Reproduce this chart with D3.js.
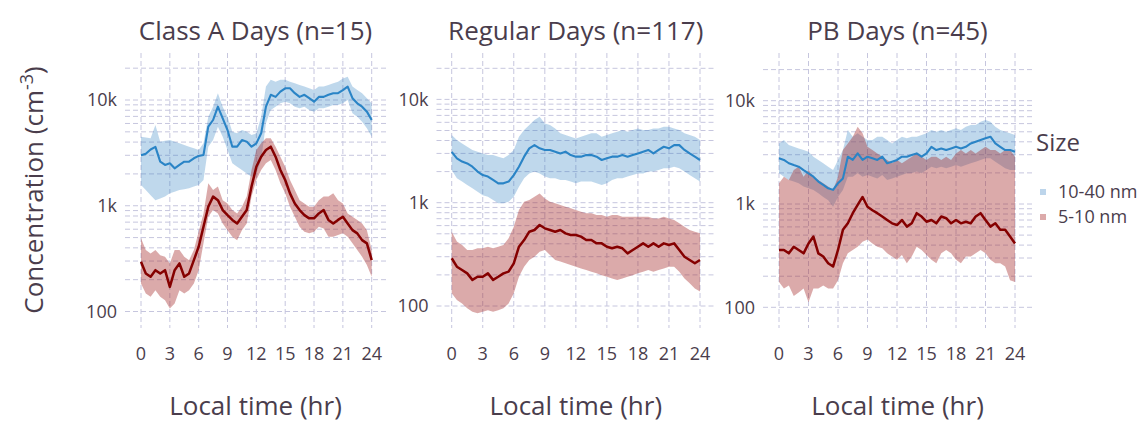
<!DOCTYPE html>
<html><head><meta charset="utf-8">
<script src="https://cdn.jsdelivr.net/npm/d3@7"></script>
<style>
body{margin:0;background:#fff}
text{font-family:'Open Sans',sans-serif;fill:#4a3d4c}
</style>
</head><body>
<svg id="chart" width="1147" height="422"></svg>
<script>
// ---------- data ----------
const hours = [0,0.5,1,1.5,2,2.5,3,3.5,4,4.5,5,5.5,6,6.5,7,7.5,8,8.5,9,9.5,10,10.5,11,11.5,12,12.5,13,13.5,14,14.5,15,15.5,16,16.5,17,17.5,18,18.5,19,19.5,20,20.5,21,21.5,22,22.5,23,23.5,24];

const panelTitles = ["Class A Days (n=15)", "Regular Days (n=117)", "PB Days (n=45)"];
const sizeLabels = ["10-40 nm", "5-10 nm"];
const xTicks = [0,3,6,9,12,15,18,21,24];
const yMajor = [100,1000,10000];
const yMajorLabels = ["100","1k","10k"];
const yMinor = [200,300,400,500,600,700,800,900,2000,3000,4000,5000,6000,7000,8000,9000,20000];

// Class A days
const classA_1040_mean = [3000,3100,3400,3600,2610,2430,2520,2260,2430,2610,2610,2810,2960,3020,5600,6470,8650,6710,5200,3620,3620,4180,4040,3620,3890,4840,8650,11200,10700,12000,12900,12900,11600,10700,11200,10400,9640,10700,10700,11200,11600,11600,12400,13400,10400,9300,8650,7760,6470];
const classA_1040_hi = [4500,4430,4340,5800,4040,4120,4180,4040,3890,3750,3620,3500,3370,3890,6960,8650,11600,8650,6960,5020,4840,5200,5020,4670,4840,6960,13400,15500,14900,15500,15500,14900,14400,13900,13400,12900,12400,13400,13400,13900,14400,14900,16000,16600,13400,12400,11600,10400,9300];
const classA_1040_lo = [1570,1410,1260,1130,1170,1220,1310,1360,1410,1430,1460,1520,1570,1750,3620,4180,5600,4500,3370,2520,2340,2180,2020,1880,2020,2710,6020,8040,8650,9300,9640,9300,8650,8350,8650,8040,7760,8350,8350,8650,8970,8970,9300,10000,7480,6960,6240,5400,4500];
const classA_510_mean = [296,229,213,246,229,246,171,246,285,213,229,306,410,632,980,1220,1130,910,815,735,680,786,910,1520,2340,2910,3370,3620,2910,2180,1750,1310,1050,910,815,760,760,846,910,735,680,735,786,680,588,548,473,441,306];
const classA_510_hi = [492,381,354,381,341,330,285,381,381,330,306,381,568,846,1630,1410,1520,1130,1050,910,846,980,1220,2180,3370,3890,4340,4340,3620,2910,2340,1750,1410,1130,1050,980,980,1130,1220,1220,1310,1130,1050,846,786,735,680,588,381];
const classA_510_lo = [184,148,138,159,138,128,107,119,159,148,159,184,246,441,786,910,846,680,588,509,473,588,680,1220,1750,2180,2520,2710,2180,1630,1310,980,786,632,568,548,568,632,610,509,509,528,548,509,441,381,330,275,213];

// Regular days
const regular_1040_mean = [3100,2690,2500,2400,2230,2000,1850,1790,1660,1540,1540,1600,1850,2230,2790,3360,3610,3360,3240,3240,3120,3000,3120,2890,2790,2790,2890,2890,2790,2590,2690,2790,2790,2890,2790,2890,3000,3120,3240,3000,3240,3480,3360,3610,3610,3240,3000,2790,2590];
const regular_1040_hi = [4520,4040,3750,3480,3240,3120,3000,2890,2890,2790,2690,2890,3240,4350,5050,5640,6310,6800,5860,5640,5240,4690,4520,4350,4190,4350,4520,4690,4690,4350,4520,4690,4870,5050,4870,5050,5240,5050,5050,5240,5240,5440,5440,5240,5050,4690,4520,4350,4040];
const regular_1040_lo = [2070,1720,1600,1480,1380,1280,1180,1140,1060,986,986,1020,1140,1430,1720,1920,2000,1920,1790,1720,1720,1660,1660,1600,1540,1600,1600,1600,1540,1480,1540,1660,1720,1720,1790,1850,1920,1920,2000,2000,2070,2150,2150,2230,2150,2000,1850,1720,1600];
const regular_510_mean = [290,240,223,207,179,192,192,207,179,192,207,215,259,375,435,524,544,608,565,544,524,544,505,487,487,469,435,435,404,404,375,362,375,362,323,348,375,404,375,404,375,404,390,404,348,300,279,259,279];
const regular_510_hi = [524,420,390,348,348,362,362,375,362,375,390,452,586,850,1020,1060,1140,1230,1100,1020,986,950,915,882,850,819,789,789,760,760,732,760,760,732,732,732,732,732,732,705,705,732,705,680,631,586,544,524,505];
const regular_510_lo = [133,114,106,95,88,85,88,91,88,91,95,106,133,192,240,279,300,336,348,311,279,269,259,249,240,231,223,215,207,199,192,185,179,185,192,199,207,215,223,215,223,231,240,240,215,185,166,148,138];

// PB days
const pb_1040_mean = [2770,2670,2480,2380,2300,2130,1980,1840,1650,1530,1420,1370,1590,1770,2870,2670,3090,2670,2870,2770,2670,2870,2480,2570,2670,2870,2870,2980,3090,2870,3090,3580,3330,3450,3330,3450,3580,3450,3580,3860,4010,4160,4320,4480,3860,3580,3330,3330,3210];
const pb_1040_hi = [3860,4160,3730,3580,3450,3330,3210,2870,2670,2480,2300,2130,2670,3330,5200,4480,4830,4480,4160,4160,4480,4480,4160,3860,4160,4480,4320,4480,4480,4650,4830,5200,5010,5200,5010,5200,5400,5200,5610,5820,5820,6270,6510,6270,5610,5200,5010,4830,4650];
const pb_1040_lo = [1980,1840,1710,1650,1590,1480,1420,1370,1270,1170,1090,940,1170,1370,1840,1840,1980,1840,1910,1840,1770,1910,1710,1770,1840,1910,1980,1980,2060,1980,2130,2300,2220,2300,2220,2300,2380,2300,2380,2480,2570,2670,2770,2770,2570,2380,2220,2130,2130];
const pb_510_mean = [359,359,333,386,359,333,415,484,333,310,267,248,359,562,650,815,980,1170,940,870,815,756,700,650,626,700,604,650,815,756,674,700,650,756,728,650,700,650,674,650,756,815,700,604,650,562,562,484,415];
const pb_510_hi = [1590,1840,1710,2130,2300,1840,2130,1840,1710,1590,1480,1370,1840,3330,3860,4480,5610,4830,3580,3330,3090,2870,2670,2480,2670,2480,2670,2870,3090,2870,2670,2870,2870,2670,2870,2670,3090,3330,3090,3330,3090,3330,3580,3330,3330,3090,3330,3330,2870];
const pb_510_lo = [176,152,163,129,139,152,112,152,152,163,152,152,183,267,333,359,386,430,452,415,386,372,333,310,289,321,267,310,386,359,321,289,267,333,359,333,289,267,310,310,333,359,333,289,267,267,248,183,176];

// ---------- layout ----------
const layout = [
  {x0:141,   x24:371.7, left:125,   right:386,  y100:311.5, y10k:100},
  {x0:451.7, x24:700,   left:436.5, right:715,  y100:306,   y10k:99.4},
  {x0:779,   x24:1015,  left:763,   right:1032, y100:307.3, y10k:100.7}
];
const panelTop = 53, panelBottom = 328;

const series = [
  [{mean:classA_1040_mean, lo:classA_1040_lo, hi:classA_1040_hi}, {mean:classA_510_mean, lo:classA_510_lo, hi:classA_510_hi}],
  [{mean:regular_1040_mean, lo:regular_1040_lo, hi:regular_1040_hi}, {mean:regular_510_mean, lo:regular_510_lo, hi:regular_510_hi}],
  [{mean:pb_1040_mean, lo:pb_1040_lo, hi:pb_1040_hi}, {mean:pb_510_mean, lo:pb_510_lo, hi:pb_510_hi}]
];

const ribbonFill = ["#2c7fc0", "#a52a2a"];
const ribbonOpacity = [0.3, 0.4];
const lineColor = ["#2a84c6", "#850000"];
const lineWidth = [2.1, 2.5];
const gridColor = "#c6c6de";

const svg = d3.select("#chart");

layout.forEach((L, p) => {
  const x = d3.scaleLinear().domain([0,24]).range([L.x0, L.x24]);
  const y = d3.scaleLog().domain([100,10000]).range([L.y100, L.y10k]);
  const g = svg.append("g");

  // grid
  const gridG = g.append("g").attr("stroke", gridColor).attr("stroke-width", 1).attr("stroke-dasharray", "5,3").attr("fill","none");
  gridG.selectAll("line.hmin").data(yMinor.filter(v => y(v) >= panelTop && y(v) <= panelBottom)).join("line")
    .attr("x1", L.left).attr("x2", L.right).attr("y1", d => y(d)).attr("y2", d => y(d));
  gridG.selectAll("line.hmaj").data(yMajor).join("line")
    .attr("x1", L.left).attr("x2", L.right).attr("y1", d => y(d)).attr("y2", d => y(d));
  gridG.selectAll("line.v").data(xTicks).join("line")
    .attr("y1", panelTop).attr("y2", panelBottom).attr("x1", d => x(d)).attr("x2", d => x(d));

  // ribbons
  series[p].forEach((s, k) => {
    const area = d3.area().x((d,i) => x(hours[i])).y0((d,i) => y(s.lo[i])).y1((d,i) => y(s.hi[i]));
    g.append("path").datum(hours).attr("d", area).attr("fill", ribbonFill[k]).attr("fill-opacity", ribbonOpacity[k]);
  });
  // lines
  series[p].forEach((s, k) => {
    const line = d3.line().x((d,i) => x(hours[i])).y((d,i) => y(s.mean[i]));
    g.append("path").datum(hours).attr("d", line).attr("fill","none").attr("stroke", lineColor[k])
      .attr("stroke-width", lineWidth[k]).attr("stroke-linejoin","round");
  });

  // y tick labels
  g.selectAll("text.yl").data(yMajor).join("text")
    .attr("x", L.left - 8).attr("y", d => y(d)).attr("dy", "0.35em")
    .attr("text-anchor","end").attr("font-size", 18).text((d,i) => yMajorLabels[i]);
  // x tick labels
  g.selectAll("text.xl").data(xTicks).join("text")
    .attr("x", d => x(d)).attr("y", 360)
    .attr("text-anchor","middle").attr("font-size", 18).text(d => d);

  const cx = (L.left + L.right) / 2;
  g.append("text").attr("x", cx).attr("y", 39.5).attr("text-anchor","middle").attr("font-size", 26).text(panelTitles[p]);
  g.append("text").attr("x", cx).attr("y", 415).attr("text-anchor","middle").attr("font-size", 26).text("Local time (hr)");
});

// y axis title
const yt = svg.append("text").attr("transform", "translate(43,190) rotate(-90)").attr("text-anchor","middle").attr("font-size", 26);
yt.append("tspan").text("Concentration (cm");
yt.append("tspan").attr("font-size", 18).attr("dy", -10).text("-3");
yt.append("tspan").attr("dy", 10).text(")");

// legend
svg.append("text").attr("x", 1036).attr("y", 151).attr("font-size", 24).text("Size");
const legFill = ["#bdd5eb", "#dcaaaa"];
sizeLabels.forEach((lab, i) => {
  const cy = [192, 217][i];
  svg.append("rect").attr("x", 1040).attr("y", cy - 3).attr("width", 6).attr("height", 6).attr("fill", legFill[i]);
  svg.append("text").attr("x", 1058).attr("y", cy).attr("dy","0.35em").attr("font-size", 18).text(lab);
});
</script>
</body></html>
